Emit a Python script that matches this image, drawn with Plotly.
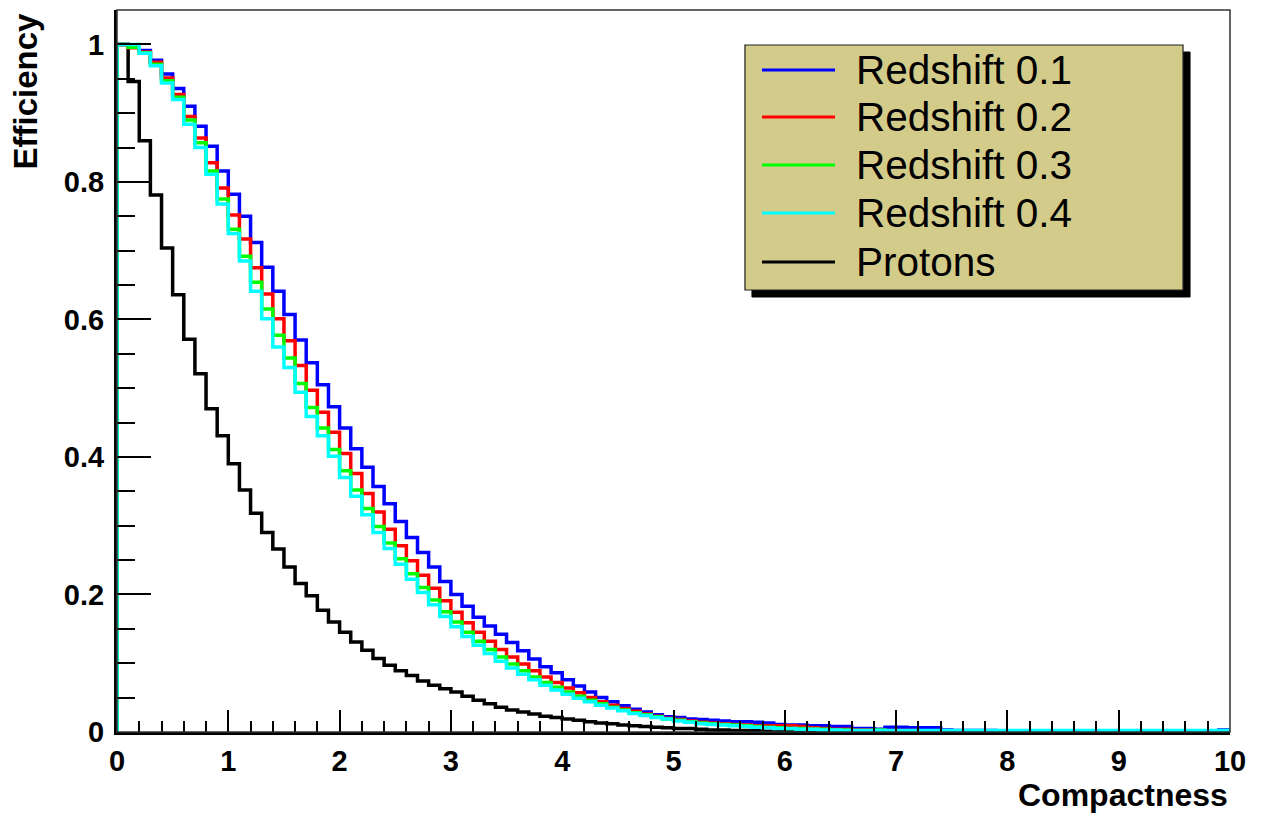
import plotly.graph_objects as go

# ---------------- data ----------------
N_BINS = 100
BIN_WIDTH = 0.1
bin_low_edges = [round(i * BIN_WIDTH, 1) for i in range(N_BINS)]
x_max = 10

series_names = ["Redshift 0.1", "Redshift 0.2", "Redshift 0.3", "Redshift 0.4", "Protons"]
series_colors = ["#0000FF", "#FF0000", "#00FF00", "#00FFFF", "#000000"]

eff_z01 = [1.000, 0.997, 0.991, 0.977, 0.957, 0.936, 0.910, 0.881, 0.852, 0.816,
           0.782, 0.750, 0.712, 0.676, 0.641, 0.607, 0.570, 0.537, 0.505, 0.473,
           0.442, 0.412, 0.385, 0.357, 0.332, 0.306, 0.283, 0.261, 0.240, 0.219,
           0.200, 0.183, 0.167, 0.154, 0.142, 0.130, 0.118, 0.106, 0.095, 0.086,
           0.076, 0.067, 0.058, 0.050, 0.044, 0.038, 0.033, 0.029, 0.025, 0.022,
           0.021, 0.019, 0.018, 0.017, 0.016, 0.015, 0.015, 0.014, 0.013, 0.011,
           0.010, 0.010, 0.009, 0.009, 0.008, 0.008, 0.005, 0.005, 0.004, 0.007,
           0.007, 0.006, 0.006, 0.006, 0.003, 0.002, 0.002, 0.002, 0.002, 0.001,
           0.001, 0.001, 0.001, 0.001, 0.001, 0.001, 0.001, 0.001, 0.001, 0.001,
           0.001, 0.001, 0.001, 0.001, 0.001, 0.001, 0.001, 0.001, 0.001, 0.003]

eff_z02 = [1.000, 0.995, 0.989, 0.974, 0.951, 0.927, 0.895, 0.864, 0.828, 0.791,
           0.752, 0.717, 0.675, 0.637, 0.601, 0.569, 0.533, 0.497, 0.465, 0.436,
           0.405, 0.376, 0.347, 0.320, 0.295, 0.271, 0.249, 0.228, 0.209, 0.191,
           0.174, 0.159, 0.145, 0.132, 0.120, 0.109, 0.099, 0.089, 0.080, 0.072,
           0.064, 0.057, 0.050, 0.044, 0.039, 0.034, 0.030, 0.026, 0.023, 0.020,
           0.018, 0.016, 0.014, 0.013, 0.012, 0.011, 0.010, 0.009, 0.009, 0.009,
           0.009, 0.008, 0.006, 0.005, 0.004, 0.004, 0.003, 0.003, 0.002, 0.002,
           0.002, 0.002, 0.001, 0.001, 0.001, 0.001, 0.001, 0.001, 0.001, 0.001,
           0.001, 0.001, 0.001, 0.001, 0.001, 0.001, 0.001, 0.001, 0.001, 0.001,
           0.001, 0.001, 0.001, 0.001, 0.001, 0.001, 0.001, 0.000, 0.000, 0.001]

eff_z03 = [1.000, 0.996, 0.988, 0.971, 0.947, 0.923, 0.890, 0.857, 0.816, 0.775,
           0.731, 0.692, 0.654, 0.615, 0.577, 0.544, 0.507, 0.472, 0.442, 0.411,
           0.380, 0.352, 0.325, 0.299, 0.275, 0.252, 0.230, 0.210, 0.192, 0.175,
           0.160, 0.145, 0.132, 0.120, 0.109, 0.099, 0.089, 0.080, 0.072, 0.065,
           0.058, 0.052, 0.046, 0.041, 0.036, 0.032, 0.028, 0.025, 0.022, 0.019,
           0.017, 0.015, 0.013, 0.012, 0.011, 0.010, 0.009, 0.008, 0.007, 0.006,
           0.005, 0.005, 0.004, 0.004, 0.003, 0.003, 0.002, 0.002, 0.003, 0.001,
           0.001, 0.001, 0.001, 0.001, 0.001, 0.001, 0.001, 0.001, 0.001, 0.001,
           0.001, 0.001, 0.001, 0.001, 0.001, 0.001, 0.001, 0.001, 0.001, 0.001,
           0.001, 0.001, 0.001, 0.001, 0.001, 0.001, 0.001, 0.001, 0.001, 0.001]

eff_z04 = [1.000, 1.000, 0.987, 0.969, 0.944, 0.920, 0.884, 0.850, 0.811, 0.768,
           0.725, 0.685, 0.641, 0.601, 0.560, 0.530, 0.494, 0.459, 0.431, 0.401,
           0.370, 0.343, 0.316, 0.290, 0.267, 0.244, 0.222, 0.203, 0.185, 0.168,
           0.153, 0.139, 0.126, 0.114, 0.103, 0.093, 0.084, 0.076, 0.068, 0.061,
           0.055, 0.049, 0.044, 0.039, 0.035, 0.031, 0.027, 0.024, 0.021, 0.019,
           0.016, 0.014, 0.012, 0.011, 0.010, 0.009, 0.008, 0.007, 0.006, 0.005,
           0.005, 0.004, 0.004, 0.003, 0.003, 0.002, 0.002, 0.002, 0.002, 0.002,
           0.002, 0.002, 0.002, 0.002, 0.002, 0.002, 0.002, 0.002, 0.002, 0.002,
           0.002, 0.002, 0.002, 0.002, 0.002, 0.002, 0.002, 0.002, 0.002, 0.002,
           0.002, 0.002, 0.002, 0.002, 0.002, 0.002, 0.002, 0.002, 0.002, 0.002]

eff_protons = [1.000, 0.946, 0.860, 0.781, 0.704, 0.636, 0.571, 0.521, 0.470, 0.431,
               0.390, 0.352, 0.318, 0.290, 0.266, 0.240, 0.216, 0.198, 0.177, 0.160,
               0.145, 0.131, 0.119, 0.107, 0.097, 0.089, 0.082, 0.074, 0.068, 0.063,
               0.058, 0.052, 0.046, 0.041, 0.036, 0.032, 0.029, 0.026, 0.023, 0.021,
               0.019, 0.017, 0.015, 0.013, 0.012, 0.010, 0.009, 0.008, 0.007, 0.006,
               0.005, 0.005, 0.004, 0.003, 0.003, 0.002, 0.002, 0.002, 0.001, 0.001,
               0.001, 0.001, 0.000, 0.000, 0.000, 0.000, 0.000, 0.000, 0.000, 0.000,
               0.000, 0.000, 0.000, 0.000, 0.000, 0.000, 0.000, 0.000, 0.000, 0.000,
               0.000, 0.000, 0.000, 0.000, 0.000, 0.000, 0.000, 0.000, 0.000, 0.000,
               0.000, 0.000, 0.000, 0.000, 0.000, 0.000, 0.000, 0.000, 0.000, 0.000]

all_series = [eff_z01, eff_z02, eff_z03, eff_z04, eff_protons]

x_tick_vals = [0, 1, 2, 3, 4, 5, 6, 7, 8, 9, 10]
y_tick_vals = [0, 0.2, 0.4, 0.6, 0.8, 1.0]
y_tick_text = ["0", "0.2", "0.4", "0.6", "0.8", "1"]
x_title = "Compactness"
y_title = "Efficiency"

# ---------------- figure ----------------
FONT = "Liberation Sans, Arial, Helvetica, sans-serif"
fig = go.Figure()

draw_order = [4, 0, 1, 2, 3]   # protons first, cyan on top
for idx in draw_order:
    vals = all_series[idx]
    xs = [bin_low_edges[0]] + bin_low_edges + [x_max, x_max]
    ys = [0] + vals + [vals[-1], 0]
    fig.add_trace(go.Scatter(
        x=xs, y=ys, mode="lines", line_shape="hv",
        line=dict(color=series_colors[idx], width=3.5),
        name=series_names[idx], showlegend=False, hoverinfo="skip"))

fig.update_xaxes(
    range=[0, x_max], tickvals=x_tick_vals, ticks="inside", ticklen=22, tickwidth=2,
    tickcolor="black", showline=True, linecolor="black", linewidth=3,
    showgrid=False, zeroline=False,
    tickfont=dict(family=FONT, size=29, color="black", weight="bold"),
    ticklabelstandoff=1,
    minor=dict(ticks="inside", ticklen=11, tickwidth=2, tickcolor="black", dtick=0.2, showgrid=False),
)
fig.update_yaxes(
    range=[0, 1.05], tickvals=y_tick_vals, ticktext=y_tick_text, ticks="inside", ticklen=34,
    tickwidth=2, tickcolor="black", showline=True, linecolor="black", linewidth=3,
    showgrid=False, zeroline=False,
    tickfont=dict(family=FONT, size=29, color="black", weight="bold"),
    ticklabelstandoff=4,
    minor=dict(ticks="inside", ticklen=18, tickwidth=2, tickcolor="black", dtick=0.05, showgrid=False),
)

shapes = []
# frame (top / right)
shapes.append(dict(type="rect", xref="paper", yref="paper", x0=0, x1=1, y0=0, y1=1,
                   line=dict(color="#333333", width=1.5), fillcolor="rgba(0,0,0,0)", layer="above"))

# manual ROOT-style legend
L_X0, L_X1, L_Y0, L_Y1 = 0.5642, 0.9578, 0.6122, 0.9515
SH = 0.0063
shapes.append(dict(type="rect", xref="paper", yref="paper",
                   x0=L_X0 + SH, x1=L_X1 + SH, y0=L_Y0 - SH * 1.54, y1=L_Y1 - SH * 1.54,
                   line=dict(color="black", width=1), fillcolor="black", layer="above"))
shapes.append(dict(type="rect", xref="paper", yref="paper",
                   x0=L_X0, x1=L_X1, y0=L_Y0, y1=L_Y1,
                   line=dict(color="#222222", width=1.2), fillcolor="#D3CB8A", layer="above"))

row_y = [0.9169, 0.8518, 0.7853, 0.7188, 0.6510]
annotations = []
for i, name in enumerate(series_names):
    shapes.append(dict(type="line", xref="paper", yref="paper",
                       x0=0.5795, x1=0.6451, y0=row_y[i], y1=row_y[i],
                       line=dict(color=series_colors[i], width=3), layer="above"))
    annotations.append(dict(xref="paper", yref="paper", x=0.6622, y=row_y[i],
                            xanchor="left", yanchor="middle", showarrow=False, text=name,
                            font=dict(family=FONT, size=40.5, color="black")))

annotations.append(dict(xref="paper", yref="paper", x=1.0, y=0, xanchor="right", yanchor="top",
                        yshift=-43, showarrow=False, text=x_title,
                        font=dict(family=FONT, size=32, color="black", weight="bold")))
annotations.append(dict(xref="paper", yref="paper", x=-0.0818, y=1.0, xanchor="center", yanchor="top",
                        yshift=0, textangle=-90, showarrow=False, text=y_title,
                        font=dict(family=FONT, size=33, color="black", weight="bold")))

fig.update_layout(
    width=1268, height=813, margin=dict(l=117, r=38, t=10, b=81),
    plot_bgcolor="white", paper_bgcolor="white",
    shapes=shapes, annotations=annotations, showlegend=False,
)

fig.write_html("out.html")
